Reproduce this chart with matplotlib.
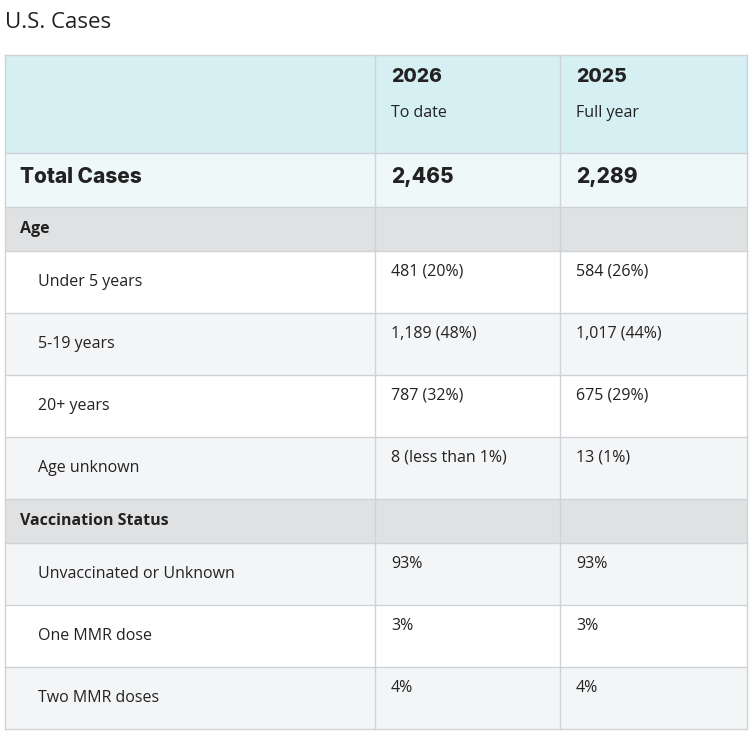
import matplotlib
matplotlib.use("Agg")
import matplotlib.pyplot as plt

TITLE = "U.S. Cases"
COL_YEARS = ["2026", "2025"]
COL_SUBS = ["To date", "Full year"]
TOTAL = ["2,465", "2,289"]
AGE_LABELS = ["Under 5 years", "5-19 years", "20+ years", "Age unknown"]
AGE_2026 = ["481 (20%)", "1,189 (48%)", "787 (32%)", "8 (less than 1%)"]
AGE_2025 = ["584 (26%)", "1,017 (44%)", "675 (29%)", "13 (1%)"]
VAC_LABELS = ["Unvaccinated or Unknown", "One MMR dose", "Two MMR doses"]
VAC_2026 = ["93%", "3%", "4%"]
VAC_2025 = ["93%", "3%", "4%"]

W, H = 753, 738
fig = plt.figure(figsize=(W / 100, H / 100), dpi=100)
ax = fig.add_axes([0, 0, 1, 1])
ax.set_xlim(0, W)
ax.set_ylim(H, 0)
ax.axis("off")

BODY = ["Open Sans", "DejaVu Sans"]
HEAD = ["Inter", "DejaVu Sans"]
TXT = "#222222"
LINE = "#cfd2d6"
X0, X1, X2, X3 = 5, 375, 560, 747


def row(y, h, color):
    ax.add_patch(plt.Rectangle((X0, y), X3 - X0, h, facecolor=color,
                               edgecolor="none", zorder=0))
    ax.plot([X0, X3], [y + h, y + h], color=LINE, lw=1, zorder=2)


ax.text(5, 22, TITLE, fontsize=16, family=BODY, color=TXT, va="center")

# header
y = 55
row(y, 98, "#d6eff3")
ax.plot([X0, X3], [y, y], color=LINE, lw=1, zorder=2)
for i, x in enumerate((X1, X2)):
    ax.text(x + 16, y + 22, COL_YEARS[i], fontsize=14, fontweight="heavy",
            family=HEAD, color=TXT, va="center")
    ax.text(x + 16, y + 58, COL_SUBS[i], fontsize=11.5, family=BODY,
            color=TXT, va="center")
y += 98

row(y, 54, "#eef8f9")
ax.text(20, y + 24, "Total Cases", fontsize=15, fontweight="heavy",
        family=HEAD, color=TXT, va="center")
for i, x in enumerate((X1, X2)):
    ax.text(x + 16, y + 24, TOTAL[i], fontsize=15, fontweight="heavy",
            family=HEAD, color=TXT, va="center")
y += 54

stripe = 0
for title, labels, c26, c25 in (("Age", AGE_LABELS, AGE_2026, AGE_2025),
                                 ("Vaccination Status", VAC_LABELS, VAC_2026, VAC_2025)):
    row(y, 44, "#e0e1e3")
    ax.text(20, y + 22, title, fontsize=11.5, fontweight="bold",
            family=BODY, color=TXT, va="center")
    y += 44
    for lab, a, b in zip(labels, c26, c25):
        row(y, 62, "#f4f5f7" if stripe % 2 else "#ffffff")
        stripe += 1
        ax.text(38, y + 31, lab, fontsize=11.5, family=BODY, color=TXT, va="center")
        ax.text(X1 + 16, y + 21, a, fontsize=11.5, family=BODY, color=TXT, va="center")
        ax.text(X2 + 16, y + 21, b, fontsize=11.5, family=BODY, color=TXT, va="center")
        y += 62
    stripe = 1

for x in (X0, X1, X2, X3):
    ax.plot([x, x], [55, y], color=LINE, lw=1, zorder=2)

fig.savefig("out.png", dpi=100)
